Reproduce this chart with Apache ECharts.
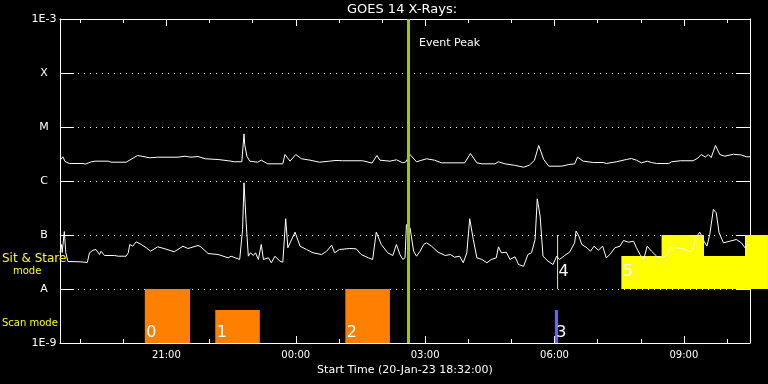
<!DOCTYPE html>
<html><head><meta charset="utf-8">
<script src="https://cdn.jsdelivr.net/npm/echarts@6/dist/echarts.min.js"></script>
<style>html,body{margin:0;padding:0;background:#000}#c{width:768px;height:384px}</style>
</head><body><div id="c"></div>
<script>
// ---------- data (time = minutes after start 20-Jan-23 18:32:00) ----------
const chartTitle = 'GOES 14 X-Rays:';
const startLabel = 'Start Time (20-Jan-23 18:32:00)';
const spanMinutes = 960;
const yLabels = ['1E-9', 'A', 'B', 'C', 'M', 'X', '1E-3'];
const xLabels = ['21:00', '00:00', '03:00', '06:00', '09:00'];
const xLabelMinutes = [148, 328, 508, 688, 868];
const hourTickMinutes = [28, 88, 148, 208, 268, 328, 388, 448, 508, 568, 628, 688, 748, 808, 868, 928];
const eventPeakMinute = 485;
const eventLabel = 'Event Peak';

// 1-8 A channel (upper curve), W/m^2
const longT = [1,4,7,13,32,35,44,49,67,71,92,108,125,136,164,174,182,192,202,220,234,243,253,256,257,260,264,275,280,289,310,313,320,328,336,348,361,375,384,393,421,434,441,445,459,468,477,481,487,496,510,521,531,563,571,580,587,605,610,619,632,645,653,660,666,673,680,698,708,716,720,728,742,756,760,774,788,795,802,809,817,823,830,847,851,863,881,888,892,898,902,906,912,918,925,937,948,955,960];
const longF = [2.50e-6,2.81e-6,2.30e-6,2.11e-6,2.11e-6,2.05e-6,2.27e-6,2.33e-6,2.33e-6,2.23e-6,2.23e-6,2.97e-6,2.69e-6,2.76e-6,2.76e-6,2.88e-6,2.76e-6,2.84e-6,2.58e-6,2.50e-6,2.37e-6,2.27e-6,2.27e-6,7.47e-6,4.74e-6,2.88e-6,2.33e-6,2.23e-6,2.43e-6,2.08e-6,2.08e-6,3.09e-6,2.33e-6,3.09e-6,2.58e-6,2.43e-6,2.23e-6,2.33e-6,2.40e-6,2.37e-6,2.37e-6,2.15e-6,2.97e-6,2.43e-6,2.33e-6,2.47e-6,2.17e-6,2.25e-6,3.09e-6,2.27e-6,2.58e-6,2.43e-6,2.17e-6,2.17e-6,3.23e-6,2.17e-6,2.08e-6,2.08e-6,2.27e-6,2.08e-6,1.96e-6,1.80e-6,1.96e-6,2.40e-6,4.54e-6,2.50e-6,1.88e-6,1.88e-6,2.02e-6,2.07e-6,2.76e-6,2.33e-6,2.20e-6,2.20e-6,2.11e-6,2.27e-6,2.50e-6,2.61e-6,2.43e-6,2.17e-6,2.33e-6,2.20e-6,2.11e-6,2.11e-6,2.27e-6,2.37e-6,2.37e-6,2.69e-6,3.09e-6,2.78e-6,3.09e-6,2.72e-6,4.54e-6,3.09e-6,2.88e-6,3.13e-6,3.03e-6,2.81e-6,2.81e-6];

// 0.5-4 A channel (lower curve), W/m^2
const shortT = [0,2,3,6,7,8,11,28,38,41,46,50,55,57,62,76,81,92,95,97,101,106,108,113,120,126,136,146,159,171,178,192,196,206,220,234,238,250,254,256,259,262,265,269,272,276,280,283,290,294,299,306,310,314,317,327,334,343,352,364,371,378,382,389,403,412,419,429,435,440,447,456,463,468,473,477,480,482,487,492,496,501,506,510,517,526,536,543,549,556,561,566,570,575,580,587,594,600,607,610,614,621,626,633,638,645,651,656,661,664,668,672,679,686,691,695,702,709,716,718,722,726,733,738,743,749,755,760,765,772,779,784,791,798,802,807,812,817,823,830,837,844,849,858,867,877,881,886,890,893,896,900,904,909,913,917,923,932,941,948,953,956,960];
const shortF = [4.74e-8,6.67e-8,4.74e-8,1.16e-7,1.16e-7,4.74e-8,3.23e-8,3.19e-8,3.10e-8,4.68e-8,5.23e-8,5.39e-8,4.35e-8,5.01e-8,4.17e-8,4.17e-8,4.05e-8,4.05e-8,4.68e-8,6.67e-8,6.20e-8,7.48e-8,7.91e-8,6.67e-8,5.80e-8,5.01e-8,6.04e-8,5.55e-8,4.89e-8,6.20e-8,5.62e-8,6.39e-8,6.04e-8,4.54e-8,4.35e-8,3.78e-8,4.05e-8,3.52e-8,1.26e-7,9.26e-7,1.68e-7,4.05e-8,4.68e-8,4.17e-8,4.68e-8,3.52e-8,6.67e-8,3.52e-8,3.78e-8,3.06e-8,4.05e-8,3.27e-8,3.14e-8,2.00e-7,5.80e-8,1.13e-7,6.20e-8,5.39e-8,4.68e-8,4.35e-8,5.01e-8,6.47e-8,4.68e-8,5.39e-8,5.62e-8,5.55e-8,4.35e-8,3.78e-8,3.52e-8,1.13e-7,6.67e-8,4.68e-8,4.17e-8,6.67e-8,4.35e-8,3.52e-8,3.78e-8,1.56e-7,1.36e-7,5.01e-8,4.05e-8,5.01e-8,6.67e-8,7.17e-8,6.20e-8,4.80e-8,4.17e-8,4.35e-8,3.88e-8,4.05e-8,3.06e-8,4.68e-8,2.00e-7,8.25e-8,3.78e-8,3.52e-8,3.06e-8,3.52e-8,3.78e-8,6.04e-8,4.68e-8,4.80e-8,3.52e-8,3.95e-8,2.84e-8,2.64e-8,4.35e-8,4.68e-8,8.25e-8,4.68e-7,2.23e-7,4.05e-8,3.27e-8,2.84e-8,4.05e-8,3.52e-8,4.17e-8,4.80e-8,7.17e-8,1.18e-7,9.50e-8,6.67e-8,5.80e-8,5.01e-8,6.20e-8,5.23e-8,6.20e-8,3.78e-8,4.35e-8,5.80e-8,6.20e-8,7.91e-8,7.36e-8,7.68e-8,5.80e-8,4.35e-8,3.52e-8,6.20e-8,5.01e-8,4.05e-8,3.78e-8,4.17e-8,5.80e-8,5.80e-8,5.55e-8,4.80e-8,5.80e-8,9.50e-8,1.13e-7,9.50e-8,7.68e-8,6.20e-8,1.02e-7,2.97e-7,2.58e-7,1.10e-7,7.17e-8,7.68e-8,8.25e-8,7.17e-8,5.80e-8,6.39e-8,6.67e-8];

// observation blocks: start/end minute, band level low/high (0-1 scan band, 1-2 sit&stare band)
const boxLabel = ['0', '1', '2', '3', '4', '5', '', ''];
const boxKind  = ['scan', 'scan', 'scan', 'dwell', 'sit', 'sit', 'sit', 'sit'];
const boxStart = [118, 216, 397, 688.5, 691.6, 781, 837, 953];
const boxEnd   = [181, 278, 459, 693, 692.6, 985, 896, 985];
const boxLow   = [0, 0, 0, 0, 1, 1, 1.61, 1.61];
const boxHigh  = [1, 0.61, 1, 0.61, 2, 1.61, 2, 2];
const modeLabels = ['Sit & Stare', 'mode', 'Scan mode'];

// ---------- chart ----------
const FONT = 'DejaVu Sans';
const kindColor = { scan: '#ff8000', dwell: '#6464ff', sit: '#ffff00' };
const gridRect = { left: 60, top: 19, width: 690, height: 324 };

const chart = echarts.init(document.getElementById('c'), null, { renderer: 'canvas' });

const minorX = (pos) => ({
  gridIndex: 0, type: 'value', min: 0, max: spanMinutes, position: pos,
  axisLine: { show: true, onZero: false, lineStyle: { color: '#fff', width: 1 } },
  axisTick: { show: true, inside: true, length: 4, customValues: hourTickMinutes, lineStyle: { color: '#fff' } },
  axisLabel: { show: false }, splitLine: { show: false }
});
const majorX = (pos, withLabels) => ({
  gridIndex: 1, type: 'value', min: 0, max: spanMinutes, position: pos,
  axisLine: { show: false, onZero: false },
  axisTick: { show: true, inside: true, length: 7, customValues: xLabelMinutes, lineStyle: { color: '#fff' } },
  axisLabel: withLabels ? {
    show: true, customValues: xLabelMinutes, color: '#fff', fontFamily: FONT, fontSize: 10, margin: 7,
    formatter: (v) => xLabels[xLabelMinutes.indexOf(Math.round(v))] || ''
  } : { show: false },
  splitLine: { show: false },
  name: withLabels ? startLabel : '', nameLocation: 'middle', nameGap: 20,
  nameTextStyle: { color: '#fff', fontFamily: FONT, fontSize: 11 }
});
const logY = (pos, withLabels) => ({
  gridIndex: 0, type: 'log', logBase: 10, min: 1e-9, max: 1e-3, splitNumber: 6, position: pos,
  axisLine: { show: true, onZero: false, lineStyle: { color: '#fff', width: 1 } },
  axisTick: { show: true, inside: true, length: 14, lineStyle: { color: '#fff' } },
  minorTick: { show: false },
  axisLabel: withLabels ? {
    show: true, color: '#fff', fontFamily: FONT, fontSize: 11, align: 'center', margin: 16,
    formatter: (v) => yLabels[Math.round(Math.log10(v)) + 9] || ''
  } : { show: false },
  splitLine: withLabels ? { show: true, lineStyle: { color: '#fff', width: 1, type: [1, 5] } } : { show: false }
});

const boxData = boxStart.map((s, i) => [s, boxEnd[i], boxLow[i], boxHigh[i]]);

const option = {
  backgroundColor: '#000',
  animation: false,
  grid: [Object.assign({}, gridRect), Object.assign({}, gridRect)],
  xAxis: [minorX('bottom'), minorX('top'), majorX('bottom', true), majorX('top', false)],
  yAxis: [logY('left', true), logY('right', false),
          { gridIndex: 1, type: 'value', min: 0, max: 6, show: false, axisLine: { onZero: false } }],
  graphic: [
    { type: 'text', x: 402, y: 10, z: 10, style: { text: chartTitle, fill: '#fff', font: '13px ' + FONT, align: 'center', verticalAlign: 'middle' } },
    { type: 'text', x: 419, y: 43, z: 10, style: { text: eventLabel, fill: '#fff', font: '11px ' + FONT, align: 'left', verticalAlign: 'middle' } },
    { type: 'text', x: 2, y: 259, z: 10, style: { text: modeLabels[0], fill: '#ffff00', font: '12px ' + FONT, align: 'left', verticalAlign: 'middle' } },
    { type: 'text', x: 13, y: 271, z: 10, style: { text: modeLabels[1], fill: '#ffff00', font: '10px ' + FONT, align: 'left', verticalAlign: 'middle' } },
    { type: 'text', x: 2, y: 323, z: 10, style: { text: modeLabels[2], fill: '#ffff00', font: '10px ' + FONT, align: 'left', verticalAlign: 'middle' } }
  ],
  series: [
    {
      type: 'custom', xAxisIndex: 2, yAxisIndex: 2, clip: false, z: 2, silent: true,
      data: boxData,
      renderItem: (params, api) => {
        const i = params.dataIndex;
        const p0 = api.coord([api.value(0), api.value(3)]);
        const p1 = api.coord([api.value(1), api.value(2)]);
        const children = [{
          type: 'rect',
          shape: { x: p0[0], y: p0[1], width: Math.max(p1[0] - p0[0], 1), height: p1[1] - p0[1] },
          style: { fill: kindColor[boxKind[i]] }
        }];
        if (boxLabel[i]) {
          const offset = boxKind[i] === 'sit' ? 17 : 10;
          children.push({
            type: 'text', z2: 5,
            style: { text: boxLabel[i], x: p0[0] + 1.5, y: p1[1] - offset, fill: '#fff',
                     font: '16px ' + FONT, align: 'left', verticalAlign: 'middle' }
          });
        }
        return { type: 'group', children };
      }
    },
    {
      type: 'line', xAxisIndex: 0, yAxisIndex: 0, z: 3, silent: true,
      data: longT.map((t, i) => [t, longF[i]]),
      showSymbol: false, symbol: 'none',
      lineStyle: { color: '#fff', width: 1 },
      markLine: {
        silent: true, symbol: ['none', 'none'], label: { show: false }, z: 6,
        lineStyle: { color: '#9ccc00', width: 3, type: 'solid' },
        data: [{ xAxis: eventPeakMinute }]
      }
    },
    {
      type: 'line', xAxisIndex: 0, yAxisIndex: 0, z: 3, silent: true,
      data: shortT.map((t, i) => [t, shortF[i]]),
      showSymbol: false, symbol: 'none',
      lineStyle: { color: '#fff', width: 1 }
    }
  ]
};
chart.setOption(option);
</script>
</body></html>
